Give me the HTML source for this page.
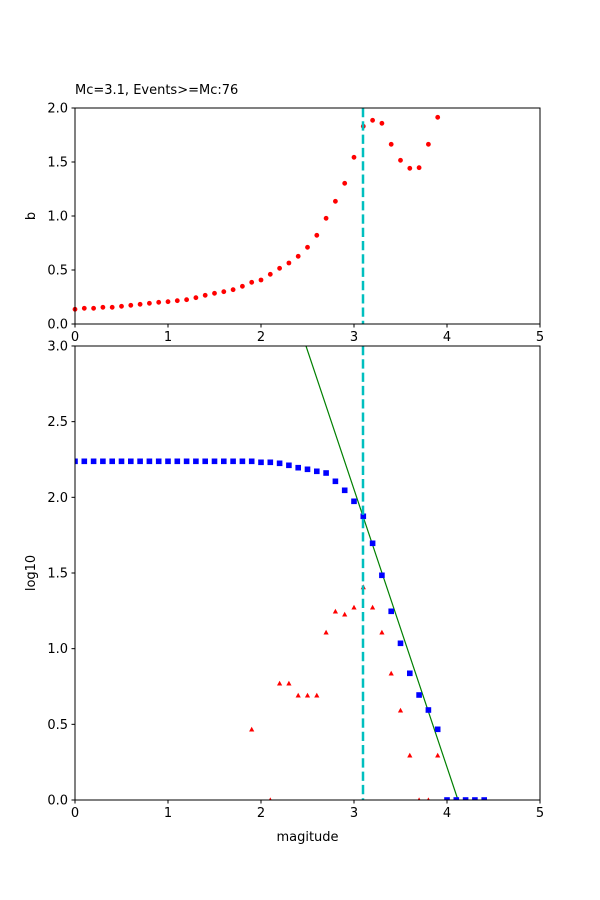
<!DOCTYPE html>
<html><head><meta charset="utf-8"><style>
html,body{margin:0;padding:0;background:#fff;}
svg{display:block;font-family:"DejaVu Sans","Liberation Sans",sans-serif;font-size:13px;}
</style></head><body>
<svg id="s" width="600" height="900" xmlns="http://www.w3.org/2000/svg">
<rect width="600" height="900" fill="#fff"/>
<g id="gtop"></g>
<g id="gbot"></g>
<text x="75" y="94">Mc=3.1, Events&gt;=Mc:76</text>
<text transform="translate(35,216) rotate(-90)" text-anchor="middle">b</text>
<text transform="translate(35,573) rotate(-90)" text-anchor="middle">log10</text>
<text x="307.5" y="841" text-anchor="middle">magitude</text>
</svg>
<script>
(function(){
const NS="http://www.w3.org/2000/svg";
function el(p,t,a,txt){const e=document.createElementNS(NS,t);for(const k in a)e.setAttribute(k,a[k]);if(txt!==undefined)e.textContent=txt;p.appendChild(e);return e;}
const X=m=>75+m*93;
const gt=document.getElementById('gtop'),gb=document.getElementById('gbot');
const ty=[309.3,308.3,308.3,307.3,307.3,306.3,305.3,304.3,303.3,302.3,301.7,300.7,299.7,297.7,295.3,293.3,291.7,289.7,286.3,282.3,280,274.3,268.3,263,256.3,247.3,235.3,218.3,201.3,183.3,157.3,126.3,120.3,123.3,144.3,160.3,168.3,167.7,144.3,117.3];
ty.forEach((y,i)=>el(gt,'circle',{cx:X(i/10),cy:y,r:2.4,fill:'#f00'}));
const by=[];for(let i=0;i<17;i++)by.push(461.3);
by.push(461.3,461.3,461.3,462.3,462.3,463.3,465.3,467.7,469.3,471.3,473,481.3,490.3,501.3,516.3,543.3,575.3,611.3,643.3,673.3,695,710,729.3,800,800,800,800,800);
const tri={19:729.3,21:800,22:683.3,23:683.3,24:695.3,25:695.3,26:695.3,27:632.3,28:611.3,29:614.3,30:607.3,31:587,32:607.3,33:632.3,34:673.3,35:710.3,36:755.3,37:800,38:800,39:755.3};
const clip=el(gb,'clipPath',{id:'c'});el(clip,'rect',{x:75,y:346,width:465,height:454});
const g=el(gb,'g',{'clip-path':'url(#c)'});
el(g,'line',{x1:306,y1:346,x2:458,y2:800,stroke:'#008000','stroke-width':1.2});
by.forEach((y,i)=>el(g,'rect',{x:X(i/10)-2.8,y:y-2.8,width:5.6,height:5.6,fill:'#00f'}));
for(const k in tri){const x=X(k/10),y=tri[k];el(g,'polygon',{points:`${x-2.6},${y+2.2} ${x+2.6},${y+2.2} ${x},${y-2.6}`,fill:'#f00'});}
function axes(p,y0,y1,yt){
  el(p,'line',{x1:363,y1:y0,x2:363,y2:y1,stroke:'#00bfbf','stroke-width':2.5,'stroke-dasharray':'9.3,4'});
  el(p,'rect',{x:75,y:y0,width:465,height:y1-y0,fill:'none',stroke:'#000','stroke-width':1});
  for(let i=0;i<=5;i++){const x=X(i);el(p,'line',{x1:x,y1:y1,x2:x,y2:y1+3.5,stroke:'#000'});el(p,'text',{x:x,y:y1+17,'text-anchor':'middle'},String(i));}
  yt.forEach(([v,y])=>{el(p,'line',{x1:71.5,y1:y,x2:75,y2:y,stroke:'#000'});el(p,'text',{x:68,y:y+4.5,'text-anchor':'end'},v);});
}
axes(gt,108,324,[["0.0",324],["0.5",270],["1.0",216],["1.5",162],["2.0",108]]);
const bt=[];for(let i=0;i<=6;i++)bt.push([(i*0.5).toFixed(1),800-i*75.67]);
axes(gb,346,800,bt);
})();
</script>
</body></html>
